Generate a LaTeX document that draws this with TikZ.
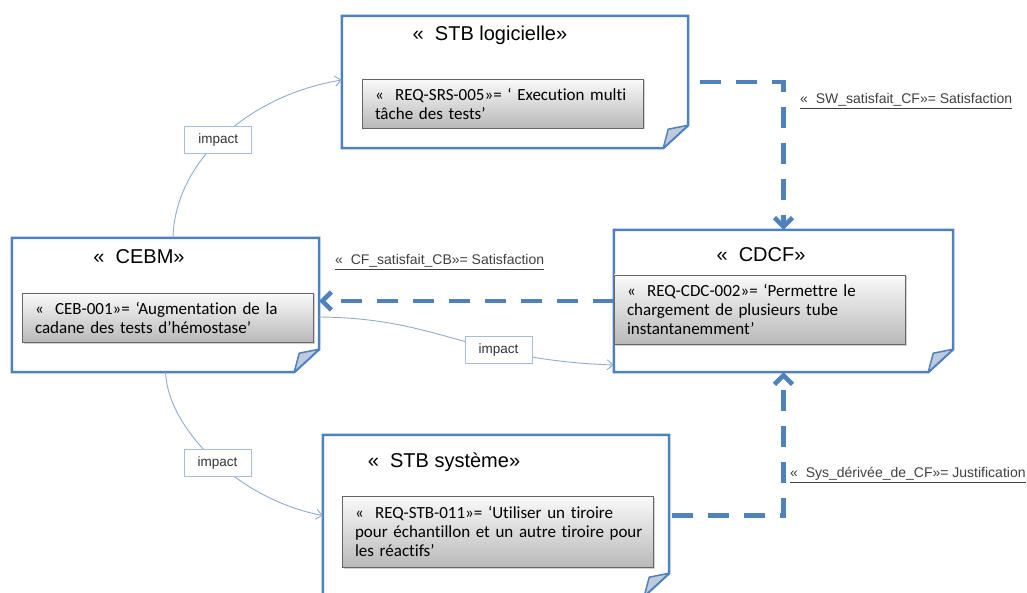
\documentclass[tikz,border=0pt]{standalone}
\usepackage{fontspec}
\setmainfont{Liberation Sans}
\newfontfamily\calibfont[Ligatures=NoCommon]{Carlito}
\usetikzlibrary{arrows.meta,shadows}

\definecolor{noteblue}{RGB}{79,129,189}
\definecolor{foldfill}{RGB}{190,203,222}
\definecolor{impactblue}{RGB}{140,172,210}
\definecolor{labelline}{RGB}{165,190,218}

\tikzset{
    notebox/.style={draw=none, inner sep=0pt},
    noteline/.style={draw=noteblue, line width=2.5pt, line join=miter},
    titletxt/.style={font=\fontsize{20}{24}\selectfont, inner sep=0pt},
    reqbox/.style={draw=black!60, top color=gray!4, bottom color=gray!55,
        drop shadow={shadow xshift=1.5pt, shadow yshift=-1.5pt, opacity=0.35},
        align=left, inner xsep=13pt, inner ysep=0pt,
        font=\calibfont\fontsize{17}{19}\selectfont},
    satis/.style={draw=noteblue, line width=4.5pt, dash pattern=on 21pt off 15pt,
        -{Straight Barb[length=9pt,width=18pt]}},
    impact/.style={draw=impactblue, line width=0.9pt, -{Straight Barb[length=6pt,width=10pt]}},
    impactlab/.style={draw=labelline, fill=white, minimum width=67pt, minimum height=27pt,
        inner sep=0pt, font=\fontsize{13.5}{15}\selectfont, text=black!80},
    linklab/.style={font=\fontsize{14}{16}\selectfont, text=black!75, anchor=west, inner sep=0pt}
}

\begin{document}
\begin{tikzpicture}[x=1pt, y=-1pt]
    \useasboundingbox (0,0) rectangle (1027,593);

    % The four requirement documents (notes with a folded corner)
    \node[notebox, minimum width=346pt, minimum height=132pt] (logi) at (515,82) {};
    \node[notebox, minimum width=307pt, minimum height=134pt] (cebm) at (165.5,305) {};
    \node[notebox, minimum width=339pt, minimum height=142pt] (cdcf) at (783.5,301) {};
    \node[notebox, minimum width=346pt, minimum height=161pt] (stbs) at (496,515.5) {};

    \foreach \n in {logi,cebm,cdcf,stbs}
        {
            \draw[noteline, fill=white] (\n.north west) -- (\n.north east) -- ([yshift=23pt]\n.south east)
            -- ([xshift=-25pt]\n.south east) -- (\n.south west) -- cycle;
            \filldraw[fill=foldfill, draw=noteblue, line width=1.5pt, line join=round]
            ([yshift=23pt]\n.south east) -- ([xshift=-25pt]\n.south east) -- ([xshift=-20pt,yshift=19pt]\n.south east) -- cycle;
        }

    % Titles of the documents
    \node[titletxt] (logititle) at (490,35) {«~~STB logicielle»};
    \node[titletxt] (cebmtitle) at (139,257) {«~~CEBM»};
    \node[titletxt] (cdcftitle) at (761,255) {«~~CDCF»};
    \node[titletxt] (stbstitle) at (444,462) {«~~STB système»};

    % Requirements inside each document
    \node[reqbox, minimum width=281pt, minimum height=49pt, text width=255pt] (logireq) at (502.5,103.5)
    {«~~REQ-SRS-005»= ‘ Execution multi\\tâche des tests’};
    \node[reqbox, minimum width=291pt, minimum height=49pt, text width=265pt] (cebmreq) at (167.5,317.5)
    {«~~CEB-001»= ‘Augmentation de la\\cadane des tests d’hémostase’};
    \node[reqbox, minimum width=291pt, minimum height=69pt, text width=265pt] (cdcfreq) at (759.5,309.5)
    {«~~REQ-CDC-002»= ‘Permettre le\\chargement de plusieurs tube\\instantanemment’};
    \node[reqbox, minimum width=311pt, minimum height=71pt, text width=285pt] (stbsreq) at (497.5,531.5)
    {«~~REQ-STB-011»= ‘Utiliser un tiroire\\\mbox{pour échantillon et un autre tiroire pour}\\les réactifs’};

    % Satisfaction / justification links
    \draw[satis] ([xshift=12pt]logi.east) -| (cdcf.north);
    \draw[satis] (cdcf.west) -- (cdcf.west -| cebm.east);
    \draw[satis] ([xshift=3pt]stbs.east) -| (cdcf.south);

    \node[linklab] (swlab) at (800,101) {\underline{«~~SW\_satisfait\_CF»= Satisfaction}};
    \node[linklab] (cflab) at (335,262) {\underline{«~~CF\_satisfait\_CB»= Satisfaction}};
    \node[linklab] (syslab) at (790,475) {\underline{«~~Sys\_dérivée\_de\_CF»= Justification}};

    % Impact links from the CEBM
    \draw[impact] ([xshift=7.5pt]cebm.north) .. controls (175,160) and (250,95) .. ([yshift=2pt]logi.west)
    node[impactlab, pos=0.47] (imp1) {impact};
    \draw[impact] ([yshift=-12pt]cebm.east) .. controls (440,318) and (470,360) .. ([yshift=-64pt]cdcf.west)
    node[impactlab, pos=0.66] (imp2) {impact};
    \draw[impact] (cebm.south) .. controls (168,430) and (240,500) .. (stbs.west)
    node[impactlab, pos=0.52] (imp3) {impact};

\end{tikzpicture}
\end{document}
